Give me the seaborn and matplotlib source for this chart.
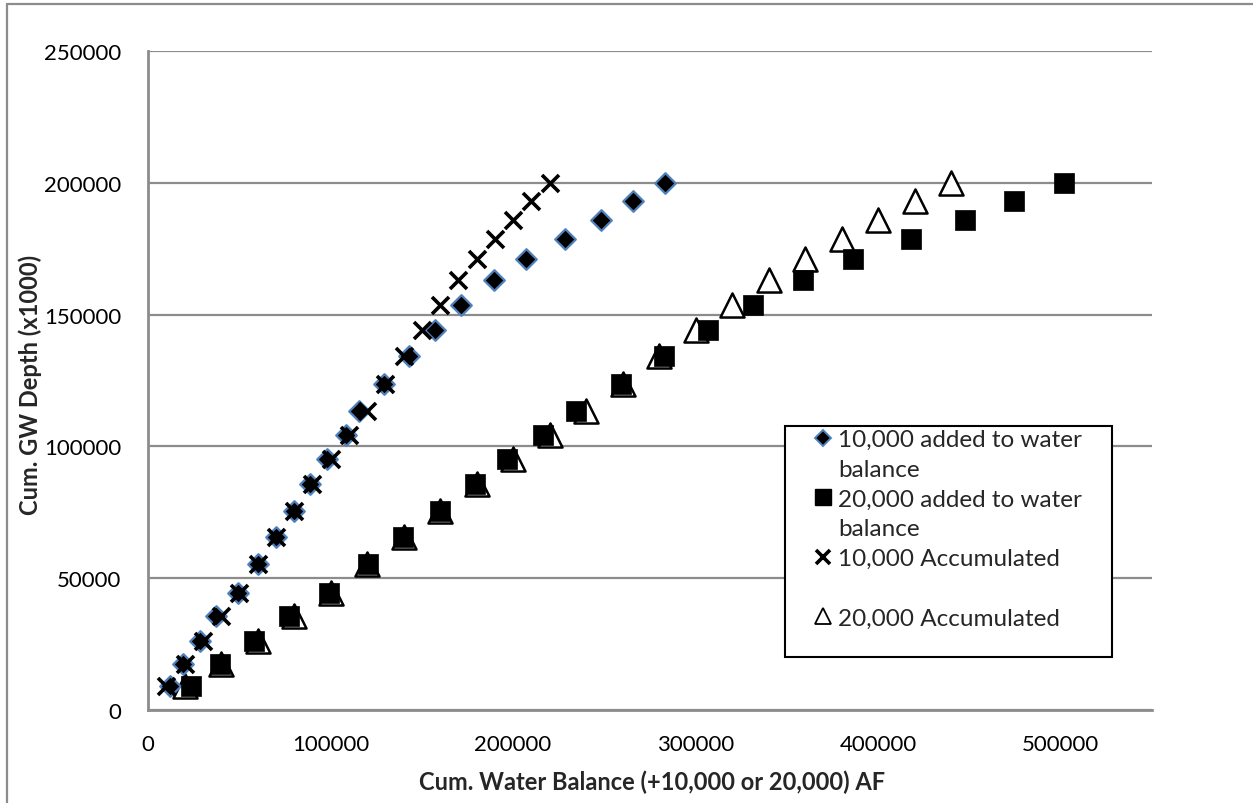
import numpy as np
import pandas as pd
import matplotlib
matplotlib.use("Agg")
import matplotlib.pyplot as plt
import seaborn as sns
from matplotlib.lines import Line2D
from matplotlib.patches import Rectangle

# --- datos ---
gw_depth = [9000, 17500, 26300, 35500, 44500, 55200, 65500, 75500, 85700, 95200, 104200,
            113400, 123700, 134200, 144000, 153800, 163100, 171100, 178600, 185800, 193000, 199800]

x_10k_added = [12000, 19300, 28400, 37500, 49300, 60200, 70200, 79800, 88900, 98000, 108400,
               115800, 129500, 142900, 157100, 171700, 189700, 207100, 228400, 248400, 265700, 283000]
x_20k_added = [23800, 39300, 58000, 77000, 98900, 120700, 139800, 159800, 179300, 196600, 216600,
               234400, 259000, 282800, 306600, 331200, 358800, 386300, 417900, 447500, 474400, 501700]
x_10k_acc = [10000, 20000, 30000, 40000, 50000, 60000, 70000, 80000, 90000, 100000, 110000,
             120000, 130000, 140000, 150000, 160000, 170000, 180000, 190000, 200000, 210000, 220000]
x_20k_acc = [20000, 40000, 60000, 80000, 100000, 120000, 140000, 160000, 180000, 200000, 220000,
             240000, 260000, 280000, 300000, 320000, 340000, 360000, 380000, 400000, 420000, 440000]

x_ticks = [0, 100000, 200000, 300000, 400000, 500000]
y_ticks = [0, 50000, 100000, 150000, 200000, 250000]

# cada entrada de la leyenda ocupa dos renglones, como en Excel
legend_lines = ['10,000 added to water', 'balance',
                '20,000 added to water', 'balance',
                '10,000 Accumulated', ' ',
                '20,000 Accumulated', ' ']

sns.set_theme(style='white')
plt.rcParams['font.family'] = ['Lato', 'DejaVu Sans']

W, H = 1253, 804
fig = plt.figure(figsize=(W / 100, H / 100), dpi=100)
ax = fig.add_axes([148/W, 1 - 711/H, (1152-148)/W, (711-52)/H])

grid_col = '#8c8c8c'
ax.set_axisbelow(True)
ax.yaxis.grid(True, color=grid_col, linewidth=1.6)

# orden de dibujo: triángulos abajo, cuadrados encima, x arriba
sns.scatterplot(x=x_20k_acc, y=gw_depth, ax=ax, marker='^', s=300, color='white',
                edgecolor='black', linewidth=1.8, zorder=2)
sns.scatterplot(x=x_10k_added, y=gw_depth, ax=ax, marker='D', s=110, color='black',
                edgecolor='#4f81bd', linewidth=1.6, zorder=3)
sns.scatterplot(x=x_20k_added, y=gw_depth, ax=ax, marker='s', s=200, color='black',
                edgecolor='black', linewidth=0.5, zorder=3)
sns.scatterplot(x=x_10k_acc, y=gw_depth, ax=ax, marker='x', s=150, color='black',
                linewidth=2.6, zorder=4)

ax.set_xlim(0, 550000)
ax.set_ylim(0, 250000)
ax.set_xticks(x_ticks)
ax.set_yticks(y_ticks)
ax.xaxis.set_major_formatter(matplotlib.ticker.FuncFormatter(lambda v, p: f'{int(v)}'))
ax.yaxis.set_major_formatter(matplotlib.ticker.FuncFormatter(lambda v, p: f'{int(v)}'))
ax.tick_params(axis='both', length=0, labelsize=16, colors='black')
ax.tick_params(axis='y', pad=19)
ax.tick_params(axis='x', pad=17)

for side in ['top', 'right']:
    ax.spines[side].set_visible(False)
for side in ['left', 'bottom']:
    ax.spines[side].set_color(grid_col)
    ax.spines[side].set_linewidth(2)

ax.set_xlabel('')
ax.set_ylabel('')
fig.text(30/W, 1 - 385/H, 'Cum. GW Depth (x1000)', rotation=90, fontsize=17,
         fontweight='bold', ha='center', va='center')
fig.text(652/W, 1 - 782/H, 'Cum. Water Balance (+10,000 or 20,000) AF',
         fontsize=17, fontweight='bold', ha='center', va='center')

blank = Line2D([], [], linestyle='', marker='')
handles = [
    Line2D([], [], marker='D', linestyle='', markersize=8, markerfacecolor='black',
           markeredgecolor='#4f81bd', markeredgewidth=1.4),
    blank,
    Line2D([], [], marker='s', linestyle='', markersize=12, markerfacecolor='black',
           markeredgecolor='black'),
    blank,
    Line2D([], [], marker='x', linestyle='', markersize=10, color='black', markeredgewidth=2.6),
    blank,
    Line2D([], [], marker='^', linestyle='', markersize=12, markerfacecolor='white',
           markeredgecolor='black', markeredgewidth=1.3),
    blank,
]

# marco de la leyenda
ax.add_patch(Rectangle((785/W, 1 - 658/H), (1112-785)/W, (658-427)/H, transform=fig.transFigure,
                       facecolor='white', edgecolor='black', linewidth=1.5, clip_on=False, zorder=4.5))
leg = ax.legend(handles, legend_lines, loc='upper left', bbox_to_anchor=(813/W, 1 - 430/H),
                bbox_transform=fig.transFigure, fontsize=17.5, frameon=False,
                borderpad=0, handlelength=0.8, handletextpad=0.23, labelspacing=0.36,
                borderaxespad=0)
leg.set_zorder(5)

# borde exterior del gráfico
fig.add_artist(plt.Line2D([7/W, 7/W], [0, 1 - 5/H], transform=fig.transFigure,
                          color=grid_col, linewidth=1.6))
fig.add_artist(plt.Line2D([7/W, 1], [1 - 5/H, 1 - 5/H], transform=fig.transFigure,
                          color=grid_col, linewidth=1.6))

fig.savefig('out.png', dpi=100)
